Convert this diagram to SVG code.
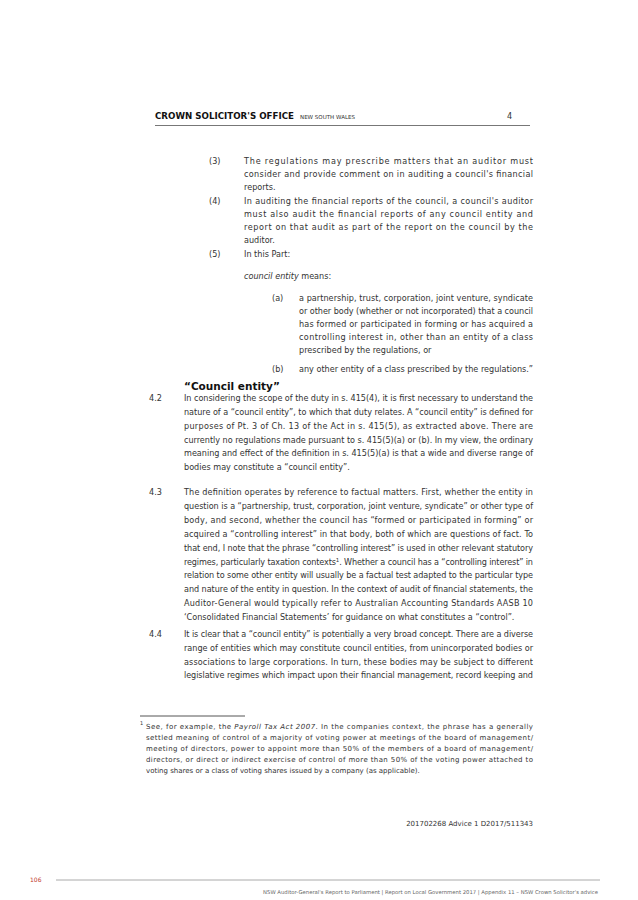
<svg xmlns="http://www.w3.org/2000/svg" width="638" height="900" viewBox="0 0 638 900">
<style>
.t{font-family:"DejaVu Sans","Verdana",sans-serif;font-size:8.1px;fill:#333}
.f{font-family:"DejaVu Sans",sans-serif;font-size:7px;fill:#333}
.i{font-style:italic}
.h{font-family:"DejaVu Sans",sans-serif;font-weight:bold;font-size:10.5px;fill:#111}
</style>
<rect width="638" height="900" fill="#fff"/>
<g id="header">
<text x="155" y="119" font-family="DejaVu Sans,sans-serif" font-weight="bold" font-size="8.4" fill="#111" textLength="139" lengthAdjust="spacingAndGlyphs">CROWN SOLICITOR'S OFFICE</text>
<text x="300" y="119" font-family="DejaVu Sans,sans-serif" font-size="5.4" fill="#333" textLength="55" lengthAdjust="spacingAndGlyphs">NEW SOUTH WALES</text>
<text x="507" y="119" class="t">4</text>
<line x1="155" y1="125.5" x2="530" y2="125.5" stroke="#777" stroke-width="1"/>
</g>
<g id="section415">
<text x="209" y="164" class="t">(3)</text>
<text x="244" y="164" class="t" textLength="289" lengthAdjust="spacing">The regulations may prescribe matters that an auditor must</text>
<text x="244" y="177" class="t" textLength="289" lengthAdjust="spacing">consider and provide comment on in auditing a council's financial</text>
<text x="244" y="190" class="t">reports.</text>
<text x="209" y="204" class="t">(4)</text>
<text x="244" y="204" class="t" textLength="289" lengthAdjust="spacing">In auditing the financial reports of the council, a council's auditor</text>
<text x="244" y="217" class="t" textLength="289" lengthAdjust="spacing">must also audit the financial reports of any council entity and</text>
<text x="244" y="230" class="t" textLength="289" lengthAdjust="spacing">report on that audit as part of the report on the council by the</text>
<text x="244" y="243" class="t">auditor.</text>
<text x="209" y="257" class="t">(5)</text>
<text x="244" y="257" class="t">In this Part:</text>
<text x="244" y="279" class="t"><tspan class="i">council entity</tspan> means:</text>
<text x="272" y="301" class="t">(a)</text>
<text x="299" y="301" class="t" textLength="234" lengthAdjust="spacing">a partnership, trust, corporation, joint venture, syndicate</text>
<text x="299" y="314" class="t" textLength="234" lengthAdjust="spacing">or other body (whether or not incorporated) that a council</text>
<text x="299" y="327" class="t" textLength="234" lengthAdjust="spacing">has formed or participated in forming or has acquired a</text>
<text x="299" y="340" class="t" textLength="234" lengthAdjust="spacing">controlling interest in, other than an entity of a class</text>
<text x="299" y="353" class="t">prescribed by the regulations, or</text>
<text x="272" y="372" class="t">(b)</text>
<text x="299" y="372" class="t">any other entity of a class prescribed by the regulations.”</text>
</g>
<g id="heading">
<text x="184" y="390" class="h">“Council entity”</text>
</g>
<g id="para42">
<text x="149" y="401" class="t">4.2</text>
<text x="184" y="401" class="t" textLength="349" lengthAdjust="spacing">In considering the scope of the duty in s. 415(4), it is first necessary to understand the</text>
<text x="184" y="415" class="t" textLength="349" lengthAdjust="spacing">nature of a “council entity”, to which that duty relates. A “council entity” is defined for</text>
<text x="184" y="429" class="t" textLength="349" lengthAdjust="spacing">purposes of Pt. 3 of Ch. 13 of the Act in s. 415(5), as extracted above. There are</text>
<text x="184" y="443" class="t" textLength="349" lengthAdjust="spacing">currently no regulations made pursuant to s. 415(5)(a) or (b). In my view, the ordinary</text>
<text x="184" y="456" class="t" textLength="349" lengthAdjust="spacing">meaning and effect of the definition in s. 415(5)(a) is that a wide and diverse range of</text>
<text x="184" y="470" class="t">bodies may constitute a “council entity”.</text>
</g>
<g id="para43">
<text x="149" y="495" class="t">4.3</text>
<text x="184" y="495" class="t" textLength="349" lengthAdjust="spacing">The definition operates by reference to factual matters. First, whether the entity in</text>
<text x="184" y="509" class="t" textLength="349" lengthAdjust="spacing">question is a “partnership, trust, corporation, joint venture, syndicate” or other type of</text>
<text x="184" y="523" class="t" textLength="349" lengthAdjust="spacing">body, and second, whether the council has “formed or participated in forming” or</text>
<text x="184" y="537" class="t" textLength="349" lengthAdjust="spacing">acquired a “controlling interest” in that body, both of which are questions of fact. To</text>
<text x="184" y="551" class="t" textLength="349" lengthAdjust="spacing">that end, I note that the phrase “controlling interest” is used in other relevant statutory</text>
<text x="184" y="565" class="t" textLength="349" lengthAdjust="spacing">regimes, particularly taxation contexts<tspan font-size="5.5" dy="-3">1</tspan><tspan dy="3">. Whether a council has a “controlling interest” in</tspan></text>
<text x="184" y="578" class="t" textLength="349" lengthAdjust="spacing">relation to some other entity will usually be a factual test adapted to the particular type</text>
<text x="184" y="592" class="t" textLength="349" lengthAdjust="spacing">and nature of the entity in question.  In the context of audit of financial statements, the</text>
<text x="184" y="606" class="t" textLength="349" lengthAdjust="spacing">Auditor-General would typically refer to Australian Accounting Standards AASB 10</text>
<text x="184" y="620" class="t">‘Consolidated Financial Statements’ for guidance on what constitutes a “control”.</text>
</g>
<g id="para44">
<text x="149" y="637" class="t">4.4</text>
<text x="184" y="637" class="t" textLength="349" lengthAdjust="spacing">It is clear that a “council entity” is potentially a very broad concept. There are a diverse</text>
<text x="184" y="651" class="t" textLength="349" lengthAdjust="spacing">range of entities which may constitute council entities, from unincorporated bodies or</text>
<text x="184" y="665" class="t" textLength="349" lengthAdjust="spacing">associations to large corporations. In turn, these bodies may be subject to different</text>
<text x="184" y="678" class="t" textLength="349" lengthAdjust="spacing">legislative regimes which impact upon their financial management, record keeping and</text>
</g>
<g id="footnote">
<line x1="140" y1="716" x2="245" y2="716" stroke="#555" stroke-width="1"/>
<text x="140" y="727" class="f"><tspan font-size="5" dy="-2">1</tspan></text>
<text x="146" y="729" class="f" textLength="387" lengthAdjust="spacing">See, for example, the <tspan class="i">Payroll Tax Act 2007</tspan>.  In the companies context, the phrase has a generally</text>
<text x="146" y="740" class="f" textLength="387" lengthAdjust="spacing">settled meaning of control of a majority of voting power at meetings of the board of management/</text>
<text x="146" y="751" class="f" textLength="387" lengthAdjust="spacing">meeting of directors, power to appoint more than 50% of the members of a board of management/</text>
<text x="146" y="762" class="f" textLength="387" lengthAdjust="spacing">directors, or direct or indirect exercise of control of more than 50% of the voting power attached to</text>
<text x="146" y="773" class="f">voting shares or a class of voting shares issued by a company (as applicable).</text>
</g>
<g id="footer">
<text x="533" y="826" class="f" font-size="5.8" text-anchor="end">201702268 Advice 1 D2017/511343</text>
<line x1="56" y1="880" x2="600" y2="880" stroke="#aaa" stroke-width="1"/>
<text x="30" y="882" font-family="DejaVu Sans,sans-serif" font-size="6" fill="#c0392b">106</text>
<text x="598" y="894" font-family="DejaVu Sans,sans-serif" font-size="5.3" fill="#666" text-anchor="end">NSW Auditor-General's Report to Parliament | Report on Local Government 2017 | Appendix 11 – NSW Crown Solicitor's advice</text>
</g>
</svg>
